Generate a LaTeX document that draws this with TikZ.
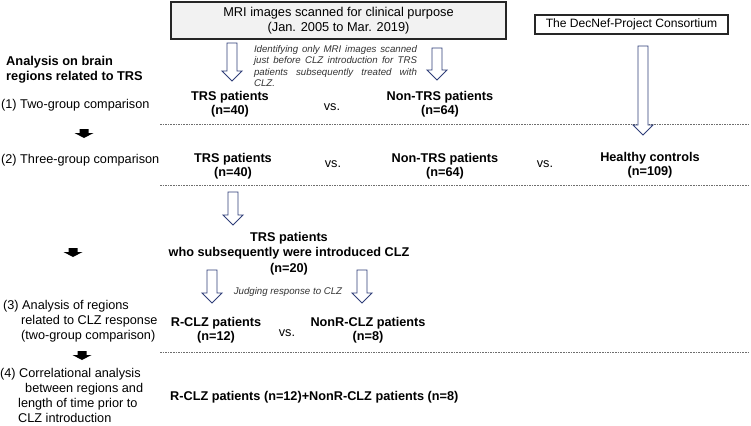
\documentclass[tikz,border=0pt]{standalone}
\usepackage{fontspec}
\setmainfont{Liberation Sans}
\usetikzlibrary{calc}
\definecolor{navy}{RGB}{47,62,120}
\definecolor{boxgray}{RGB}{242,242,242}
\definecolor{dashgray}{RGB}{110,110,110}
\tikzset{
  txt/.style={inner sep=0pt, align=center, font=\fontsize{12.7}{14}\selectfont},
  boldtxt/.style={inner sep=0pt, align=center, font=\fontsize{12.7}{14}\selectfont\bfseries},
  lefttxt/.style={inner sep=0pt, anchor=west, align=left, font=\fontsize{12.7}{15}\selectfont},
  notetxt/.style={inner sep=0pt, text=black!80, font=\fontsize{9.7}{11.3}\selectfont\itshape},
  srcbox/.style={draw=black!85, line width=1.4pt, inner sep=0pt, align=center},
  harr/.style={draw=navy, line width=0.9pt, fill=white, line join=miter},
  dashline/.style={draw=dashgray, line width=0.6pt, dash pattern=on 1.6pt off 1pt},
  blkarrow/.pic={\fill[black] (-4.5,0) -- (4.5,0) -- (4.5,4) -- (9.5,4) -- (0,9) -- (-9.5,4) -- (-4.5,4) -- cycle;}
}
\newcommand\hollowarr[2]{\draw[harr] let \p1=(#1), \p2=(#2) in
  (\x1-5pt,\y1) -- (\x1+5pt,\y1) -- (\x1+5pt,\y2+10pt) -- (\x1+10pt,\y2+10pt) --
  (\x1,\y2) -- (\x1-10pt,\y2+10pt) -- (\x1-5pt,\y2+10pt) -- cycle;}
\begin{document}
\begin{tikzpicture}[x=1pt,y=-1pt]
\useasboundingbox (0,0) rectangle (751,425);

% source boxes
\node[srcbox, fill=boxgray, minimum width=335pt, minimum height=37pt,
      font=\fontsize{12.8}{15}\selectfont] (mri) at (338.5,20.5)
      {MRI images scanned for clinical purpose\\(Jan. 2005 to Mar. 2019)};
\node[srcbox, minimum width=193pt, minimum height=19pt,
      font=\fontsize{12.1}{14}\selectfont] (decnef) at (631.5,24.5)
      {The DecNef-Project Consortium};

% left column
\node[lefttxt, font=\fontsize{12.8}{15}\selectfont\bfseries] (head) at (6,69.5)
      {Analysis on brain\\regions related to TRS};
\node[lefttxt] (l1) at (1,105) {(1) Two-group comparison};
\node[lefttxt] (l2) at (1,160) {(2) Three-group comparison};
\node[lefttxt] (l3) at (3,321)
      {(3) Analysis of regions\\\hspace*{18pt}related to CLZ response\\\hspace*{18pt}(two-group comparison)};
\node[lefttxt] (l4) at (0,395.5)
      {(4) Correlational analysis\\\hspace*{25pt}between regions and\\\hspace*{18pt}length of time prior to\\\hspace*{18pt}CLZ introduction};

\pic at (84,129) {blkarrow};
\pic at (73,248) {blkarrow};
\pic at (82,351) {blkarrow};

% note
\node[notetxt, text width=163pt, align=justify] (note) at (335.5,66)
  {Identifying only MRI images scanned\linebreak just before CLZ introduction for TRS\linebreak patients subsequently treated with\linebreak CLZ.};

% row 1
\node[boldtxt] (trs1) at (230,104) {TRS patients\\(n=40)};
\node[txt] (vs1) at (332,107) {vs.};
\node[boldtxt] (ntrs1) at (440,104) {Non-TRS patients\\(n=64)};

\draw[dashline] (160,124) -- (750,124);

% row 2
\node[boldtxt] (trs2) at (233,166) {TRS patients\\(n=40)};
\node[txt] (vs2) at (333,164) {vs.};
\node[boldtxt] (ntrs2) at (445,166) {Non-TRS patients\\(n=64)};
\node[txt] (vs3) at (545,164) {vs.};
\node[boldtxt] (hc) at (650,165.5) {Healthy controls\\(n=109)};

\draw[dashline] (160,185) -- (750,185);

% row 3
\node[boldtxt, font=\fontsize{12.7}{15.5}\selectfont\bfseries] (clz) at (289,253.5)
  {TRS patients\\who subsequently were introduced CLZ\\(n=20)};
\node[notetxt] (judge) at (288,292) {Judging response to CLZ};
\node[boldtxt] (rclz) at (216,330) {R-CLZ patients\\(n=12)};
\node[txt] (vs4) at (287,333) {vs.};
\node[boldtxt] (nrclz) at (368,330) {NonR-CLZ patients\\(n=8)};

\draw[dashline] (160,352) -- (750,352);

\node[boldtxt, anchor=west] (all) at (170,397) {R-CLZ patients (n=12)+NonR-CLZ patients (n=8)};

% hollow arrows
\coordinate (a1s) at (232,43);  \coordinate (a1e) at (232,81);
\coordinate (a2s) at (437,48);  \coordinate (a2e) at (437,80);
\coordinate (a3s) at (643,46);  \coordinate (a3e) at (643,135);
\coordinate (a4s) at (233,192); \coordinate (a4e) at (233,225);
\coordinate (a5s) at (212,270); \coordinate (a5e) at (212,303);
\coordinate (a6s) at (362,270); \coordinate (a6e) at (362,303);
\hollowarr{a1s}{a1e}
\hollowarr{a2s}{a2e}
\hollowarr{a3s}{a3e}
\hollowarr{a4s}{a4e}
\hollowarr{a5s}{a5e}
\hollowarr{a6s}{a6e}
\end{tikzpicture}
\end{document}
